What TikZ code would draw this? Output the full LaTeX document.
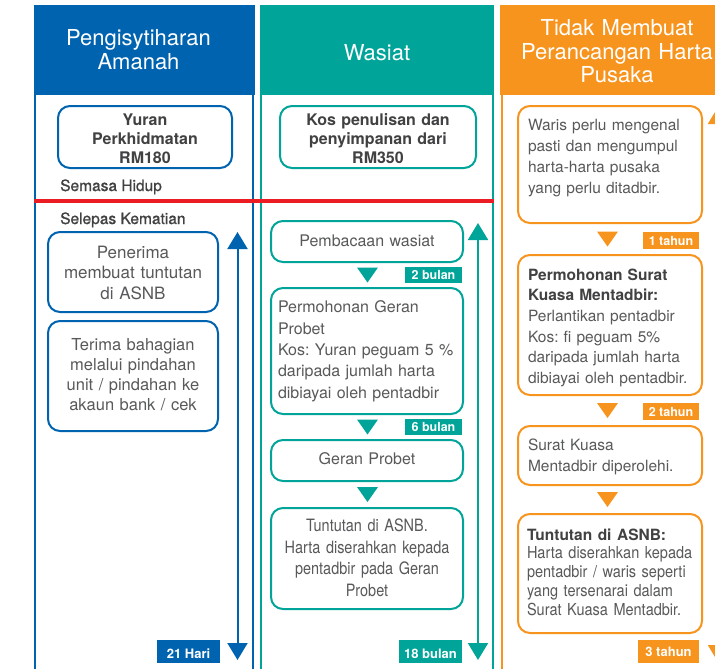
\documentclass[tikz,border=0pt]{standalone}
\usepackage{fontspec}
\setmainfont{TeX Gyre Heros}
\newfontfamily\condA[FakeStretch=0.85]{TeX Gyre Heros}
\newfontfamily\condB[FakeStretch=0.88]{TeX Gyre Heros}
\newfontfamily\medfont[FakeBold=1]{TeX Gyre Heros}
\usetikzlibrary{arrows.meta,calc}
\definecolor{cblue}{HTML}{0063AF}
\definecolor{cteal}{HTML}{00A499}
\definecolor{corange}{HTML}{F7941E}
\definecolor{cred}{HTML}{EC1C24}
\definecolor{ctext}{HTML}{58595B}
\definecolor{cdark}{HTML}{414042}
\newcommand\flowmark[4]{%
  \path (#2.south) -- (#3.north) coordinate[pos=0.5] (#2-#3);
  \fill[#1] ($(#2-#3)+(#4-10.5,-7.5)$) -- ($(#2-#3)+(#4+10.5,-7.5)$) -- ($(#2-#3)+(#4,7.5)$) -- cycle;}
\frenchspacing
\begin{document}
\begin{tikzpicture}[x=1pt,y=-1pt,
  boxnode/.style={draw=#1, line width=2pt, rounded corners=12pt, fill=white, inner sep=0pt, text=ctext},
  hdr/.style={text=white, inner sep=0pt, align=center, text width=220pt, font=\fontsize{22}{23.4}\selectfont},
  tagnode/.style={fill=#1, text=white, inner sep=0pt, font=\bfseries\fontsize{12.5}{14}\selectfont},
  bigtag/.style={fill=#1, text=white, inner sep=0pt, font=\bfseries\fontsize{13}{15}\selectfont, minimum height=23pt, text height=13.6pt, text depth=0pt},
  spanarrow/.style={draw=#1, line width=2pt, arrows={Triangle[width=20pt,length=17pt]-Triangle[width=20pt,length=17pt]}},
  colline/.style={draw=#1, line width=2pt},
  phase/.style={anchor=base west, inner sep=0pt, text=cdark, font=\medfont\fontsize{15.5}{19}\selectfont},
]
\useasboundingbox (0,0) rectangle (715,669);
\fill[white] (0,0) rectangle (715,669);

% headers
\fill[cblue] (34,5) rectangle (255,95);
\fill[cteal] (260,5) rectangle (494.3,95);
\fill[corange] (500,5) rectangle (740,95);
\node[hdr, text height=16pt, text depth=24.6pt] (h1) at (138.5,50) {Pengisytiharan\\Amanah};
\node[hdr, text height=20pt, text depth=0pt] (h2) at (377,50) {Wasiat};
\node[hdr, text height=16pt, text depth=44.6pt] (h3) at (617,50) {Tidak Membuat\\Perancangan Harta\\Pusaka};

% column borders
\draw[colline=cblue] (35.2,95) -- (35.2,680) (252.5,95) -- (252.5,680);
\draw[colline=cteal] (261.2,95) -- (261.2,680) (492.7,95) -- (492.7,680);
\draw[colline=corange] (501.5,95) -- (501.5,680) (733,95) -- (733,680);

% divider
\draw[cred, line width=4pt] (34,201) -- (494.3,201);
\node[phase] (semasa) at (60,191) {Semasa Hidup};
\node[phase] (selepas) at (60,224) {Selepas Kematian};

% blue column
\node[boxnode=cblue, minimum width=174pt, minimum height=62pt, text width=164pt, text height=19pt, text depth=43pt, align=center, text=cdark, font=\bfseries\fontsize{16}{19}\selectfont] (yuran) at (145,137) {Yuran\\Perkhidmatan\\RM180};
\node[boxnode=cblue, minimum width=170pt, minimum height=80pt, text width=164pt, text height=26.3pt, text depth=53.7pt, align=center, font=\fontsize{17}{20.4}\selectfont] (pener) at (133,272) {Penerima\\membuat tuntutan\\di ASNB};
\node[boxnode=cblue, minimum width=170pt, minimum height=110pt, text width=164pt, text height=29pt, text depth=81pt, align=center, font=\fontsize{16.5}{20}\selectfont] (terima) at (133,376) {Terima bahagian\\melalui pindahan\\unit / pindahan ke\\akaun bank / cek};

% teal column
\node[boxnode=cteal, minimum width=196pt, minimum height=62pt, text width=186pt, text height=19pt, text depth=43pt, align=center, text=cdark, font=\bfseries\fontsize{16}{19}\selectfont] (kos) at (378,137) {Kos penulisan dan\\penyimpanan dari\\RM350};
\node[boxnode=cteal, minimum width=192pt, minimum height=41pt, text width=182pt, text height=25.5pt, text depth=15.5pt, align=center, font=\fontsize{16}{21}\selectfont] (baca) at (367,241.5) {Pembacaan wasiat};
\node[boxnode=cteal, minimum width=192pt, minimum height=126pt, text width=178pt, text height=24.7pt, text depth=101.3pt, align=left, font=\fontsize{16}{21.4}\selectfont] (geran1) at (367,351) {Permohonan Geran\\Probet\\Kos: Yuran peguam 5 \%\\daripada jumlah harta\\dibiayai oleh pentadbir};
\node[boxnode=cteal, minimum width=192pt, minimum height=41pt, text width=182pt, text height=24.5pt, text depth=16.5pt, align=center, font=\fontsize{16}{21}\selectfont] (geranp) at (367,460.5) {Geran Probet};
\node[boxnode=cteal, minimum width=192pt, minimum height=101pt, text width=182pt, text height=23.7pt, text depth=77.3pt, align=center, font=\condA\fontsize{17}{21.6}\selectfont] (tunt1) at (367,558.5) {Tuntutan di ASNB.\\Harta diserahkan kepada\\pentadbir pada Geran\\Probet};

% orange column
\node[boxnode=corange, minimum width=184pt, minimum height=117pt, text width=164pt, text height=24.7pt, text depth=92.3pt, align=left, font=\fontsize{15.5}{20.9}\selectfont] (waris) at (610,164.5) {Waris perlu mengenal\\pasti dan mengumpul\\harta-harta pusaka\\yang perlu ditadbir.};
\node[boxnode=corange, minimum width=184pt, minimum height=140pt, text width=164pt, text height=25pt, text depth=115pt, align=left, font=\fontsize{15.5}{20.67}\selectfont] (surat1) at (610,325) {\textcolor{cdark}{\textbf{Permohonan Surat}}\\\textcolor{cdark}{\textbf{Kuasa Mentadbir:}}\\Perlantikan pentadbir\\Kos: fi peguam 5\%\\daripada jumlah harta\\dibiayai oleh pentadbir.};
\node[boxnode=corange, minimum width=184pt, minimum height=59pt, text width=164pt, text height=24pt, text depth=35pt, align=left, font=\fontsize{15.5}{21.7}\selectfont] (surat2) at (610,455.5) {Surat Kuasa\\Mentadbir diperolehi.};
\node[boxnode=corange, minimum width=184pt, minimum height=119pt, text width=166pt, text height=26pt, text depth=93pt, align=left, font=\condB\fontsize{16.5}{18.75}\selectfont] (tunt2) at (610,573.5) {{\rmfamily\bfseries\color{cdark}\fontsize{15.5}{18.75}\selectfont Tuntutan di ASNB:}\\Harta diserahkan kepada\\pentadbir / waris seperti\\yang tersenarai dalam\\Surat Kuasa Mentadbir.};

% flow markers
\flowmark{cteal}{baca}{geran1}{0.5}
\flowmark{cteal}{geran1}{geranp}{0.5}
\flowmark{cteal}{geranp}{tunt1}{0.5}
\flowmark{corange}{waris}{surat1}{-2.5}
\flowmark{corange}{surat1}{surat2}{-2.5}
\flowmark{corange}{surat2}{tunt2}{-2.5}

% time tags
\node[tagnode=cteal, minimum width=57pt, minimum height=16pt, text height=8pt, text depth=0pt] (t2b) at (433.5,275) {2 bulan};
\node[tagnode=cteal, minimum width=57pt, minimum height=16pt, text height=9.4pt, text depth=0pt] (t6b) at (433.5,427) {6 bulan};
\node[tagnode=corange, minimum width=56pt, minimum height=17pt, text height=10.4pt, text depth=0pt] (o1t) at (671,240.5) {1 tahun};
\node[tagnode=corange, minimum width=56pt, minimum height=17pt, text height=10.4pt, text depth=0pt] (o2t) at (671,411.5) {2 tahun};
\node[bigtag=cblue, minimum width=63pt] (b21) at (188.5,651.5) {21 Hari};
\node[bigtag=cteal, minimum width=63pt] (t18) at (430.5,651.5) {18 bulan};
\node[bigtag=corange, minimum width=61pt, text height=10.4pt] (o3t) at (668.5,651.5) {3 tahun};

% span arrows
\coordinate (bTop) at (237.5,232);
\coordinate (bBot) at (237.5,660);
\coordinate (tTop) at (478,223);
\coordinate (tBot) at (478,660);
\coordinate (oTop) at (718,107);
\coordinate (oBot) at (718,662);
\draw[spanarrow=cblue] (bBot) -- (bTop);
\draw[spanarrow=cteal] (tBot) -- (tTop);
\draw[spanarrow=corange] (oBot) -- (oTop);
\end{tikzpicture}
\end{document}
